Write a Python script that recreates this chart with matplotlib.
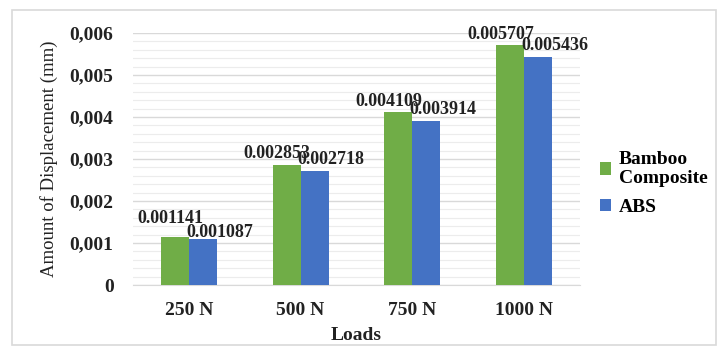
import matplotlib
matplotlib.use("Agg")
import matplotlib.pyplot as plt
import numpy as np
from matplotlib.patches import Rectangle, Patch
from matplotlib.ticker import MultipleLocator, FuncFormatter

categories = ["250 N", "500 N", "750 N", "1000 N"]
bamboo = [0.001141, 0.002853, 0.004109, 0.005707]
abs_vals = [0.001087, 0.002718, 0.003914, 0.005436]
bamboo_labels = ["0.001141", "0.002853", "0.004109", "0.005707"]
abs_labels = ["0.001087", "0.002718", "0.003914", "0.005436"]
series_names = ["Bamboo\nComposite", "ABS"]

# label offsets (points), styling only
green_dx = [-3, -7, -7, -7]
green_dy = [7, 2, 2, 2]
blue_dx = [12, 12, 12, 12]
blue_dy = [-1, 2, 2, 2]

GREEN = "#70AD47"
BLUE = "#4472C4"
FONT = "Liberation Serif"

plt.rcParams["font.family"] = [FONT, "DejaVu Serif"]

fig = plt.figure(figsize=(7.19, 3.54), dpi=100)
ax = fig.add_axes([133/719, 1-285/354, (580-133)/719, (285-33)/354])

x = np.arange(len(categories))
w = 0.25
b1 = ax.bar(x - w/2, bamboo, w, color=GREEN, zorder=3)
b2 = ax.bar(x + w/2, abs_vals, w, color=BLUE, zorder=3)

for rect, lab, dx, dy in zip(b1, bamboo_labels, green_dx, green_dy):
    ax.annotate(lab, (rect.get_x() + rect.get_width()/2, rect.get_height()),
                xytext=(dx, dy), textcoords="offset points", ha="center", va="bottom",
                fontsize=13, fontweight="bold", color="#222222", zorder=4)
for rect, lab, dx, dy in zip(b2, abs_labels, blue_dx, blue_dy):
    ax.annotate(lab, (rect.get_x() + rect.get_width()/2, rect.get_height()),
                xytext=(dx, dy), textcoords="offset points", ha="center", va="bottom",
                fontsize=13, fontweight="bold", color="#222222", zorder=4)

ax.set_xlim(-0.5, len(categories) - 0.5)
ax.set_ylim(0, 0.006)
ax.yaxis.set_major_locator(MultipleLocator(0.001))
ax.yaxis.set_minor_locator(MultipleLocator(0.0002))
ax.yaxis.set_major_formatter(FuncFormatter(lambda v, p: "0" if abs(v) < 1e-12 else f"{v:.3f}".replace(".", ",")))
ax.grid(axis="y", which="major", color="#d9d9d9", linewidth=1.0, zorder=0)
ax.grid(axis="y", which="minor", color="#ececec", linewidth=0.8, zorder=0)
ax.set_axisbelow(True)
for s in ["top", "right", "left"]:
    ax.spines[s].set_visible(False)
ax.spines["bottom"].set_color("#d9d9d9")
ax.tick_params(axis="both", which="both", length=0)
ax.tick_params(axis="y", pad=14)
ax.tick_params(axis="x", pad=12)
ax.set_xticks(x)
ax.set_xticklabels(categories)
for t in ax.get_xticklabels() + ax.get_yticklabels():
    t.set_fontsize(14)
    t.set_fontweight("bold")
    t.set_color("#222222")

ax.set_xlabel("Loads", fontsize=14, fontweight="bold", color="#222222", labelpad=6)
ax.set_ylabel("Amount of Displacement (mm)", fontsize=13.5, color="#222222", labelpad=8)

handles = [Patch(facecolor=GREEN), Patch(facecolor=BLUE)]
leg = fig.legend(handles, series_names, loc="upper left", bbox_to_anchor=(582/719, 1-133/354),
                 frameon=False, handlelength=0.6, handleheight=0.6, handletextpad=0.4,
                 labelspacing=0.6, prop={"family": FONT, "weight": "bold", "size": 14})

fig.patches.append(Rectangle((12/719, 1-345/354), (716-12)/719, (345-10)/354,
                             transform=fig.transFigure, fill=False, edgecolor="#d9d9d9", linewidth=1.2))

fig.savefig("out.png", dpi=100)
